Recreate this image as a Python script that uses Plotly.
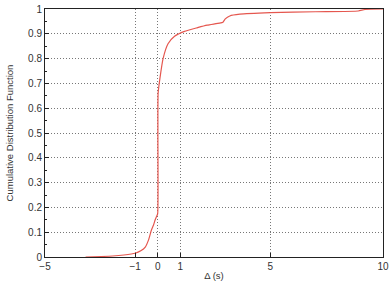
import plotly.graph_objects as go

delta_s = [-3.2, -2.5, -2.0, -1.5, -1.0, -0.75, -0.55, -0.4, -0.28, -0.18, -0.11, -0.04, 0.0, 0.01, 0.02,
           0.1, 0.24, 0.46, 0.75, 1.19, 1.77, 2.2, 2.75, 2.9, 3.0, 3.2, 3.65, 5.0, 7.0, 8.9, 9.2, 10.0]
cdf = [0.0, 0.002, 0.004, 0.008, 0.015, 0.025, 0.04, 0.07, 0.108, 0.13, 0.15, 0.165, 0.175, 0.5, 0.66,
       0.72, 0.8, 0.86, 0.89, 0.91, 0.925, 0.935, 0.943, 0.947, 0.96, 0.972, 0.979, 0.985, 0.989, 0.992, 0.998, 1.0]

x_ticks = [-5, -1, 0, 1, 5, 10]
x_tick_labels = ["\u22125", "\u22121", "0", "1", "5", "10"]
y_ticks = [0, 0.1, 0.2, 0.3, 0.4, 0.5, 0.6, 0.7, 0.8, 0.9, 1]
y_tick_labels = ["0", "0.1", "0.2", "0.3", "0.4", "0.5", "0.6", "0.7", "0.8", "0.9", "1"]

FONT = "Liberation Sans, Arial"
fig = go.Figure()
fig.add_trace(go.Scatter(x=delta_s, y=cdf, mode="lines",
                         line=dict(color="#e5574f", width=1.2, shape="spline", smoothing=0.5),
                         showlegend=False, hoverinfo="skip"))

axis_common = dict(showline=True, linecolor="#222222", linewidth=1, mirror=True,
                   ticks="inside", ticklen=4, tickcolor="#222222",
                   showgrid=True, gridcolor="#777777", griddash="1px,2px", gridwidth=1,
                   zeroline=False, ticklabeloverflow="allow",
                   tickfont=dict(family=FONT, size=10, color="#333333"))

fig.update_xaxes(range=[-5, 10], tickvals=x_ticks, ticktext=x_tick_labels,
                 title=dict(text="\u0394 (s)", font=dict(family=FONT, size=9.5, color="#333333"), standoff=1),
                 **axis_common)
fig.update_yaxes(range=[0, 1], tickvals=y_ticks, ticktext=y_tick_labels,
                 minor=dict(ticks="inside", ticklen=2, tickcolor="#222222", dtick=0.05, showgrid=False),
                 title=dict(text="Cumulative Distribution Function", font=dict(family=FONT, size=9.5, color="#333333"), standoff=12),
                 **axis_common)

fig.update_layout(width=392, height=283, margin=dict(l=45, r=3, t=8, b=26),
                  plot_bgcolor="white", paper_bgcolor="white")
fig.write_html("out.html")
